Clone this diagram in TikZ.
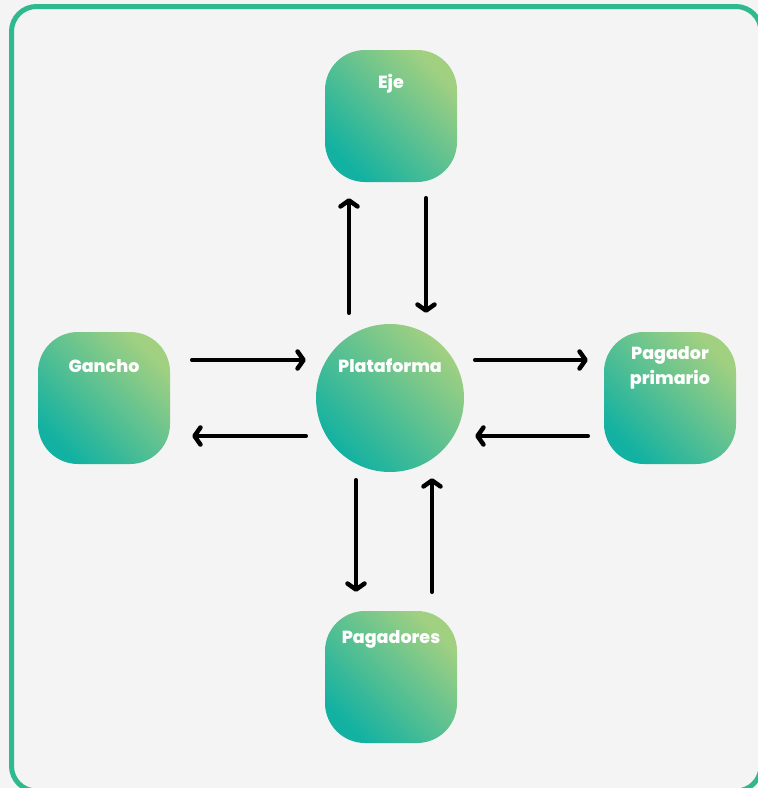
\documentclass[tikz,border=0pt]{standalone}
\usepackage{fontspec}
\setmainfont{Poppins}[BoldFont={Poppins ExtraBold}]
\usetikzlibrary{arrows.meta}
\definecolor{bgGray}{HTML}{F4F4F4}
\definecolor{frameGreen}{HTML}{2EB98F}
\definecolor{lightGreen}{HTML}{A2D081}
\definecolor{deepTeal}{HTML}{12B1A2}
\tikzset{
  entity/.style={
    shape = rectangle,
    rounded corners = 40pt,
    minimum size = 132pt,
    inner sep = 0pt,
    top color = deepTeal,
    bottom color = lightGreen,
    shading angle = 135
  },
  hub/.style={
    shape = circle,
    minimum size = 148pt,
    inner sep = 0pt,
    top color = deepTeal,
    bottom color = lightGreen,
    shading angle = 135
  },
  tag/.style={
    anchor = center,
    text = white,
    font = \bfseries\fontsize{17.5}{25}\selectfont,
    align = center
  },
  flow/.style={
    line width = 4.5pt,
    line cap = round,
    -{Straight Barb[length=6pt,width=17pt,round]}
  }
}
\begin{document}
\begin{tikzpicture}[x=1pt,y=-1pt]
    \useasboundingbox (0,0) rectangle (758,788);
    \fill[bgGray] (0,0) rectangle (758,788);
    \draw[frameGreen, line width=5pt, rounded corners=25pt] (11.5,6.5) rectangle (761,791);
    % parties
    \node[entity, label={[tag, yshift=-34pt]north:Eje}] (eje) at (391,116) {};
    \node[entity, label={[tag, yshift=-34pt]north:Gancho}] (gancho) at (104,398) {};
    \node[hub, label={[tag, yshift=-42pt]north:Plataforma}] (plat) at (390,398) {};
    \node[entity, label={[tag, yshift=-36pt]north:Pagador\\primario}] (pagprim) at (670,398) {};
    \node[entity, label={[tag, yshift=-29pt]north:Pagadores}] (pagadores) at (391,677) {};
    % flows
    \draw[flow] ([xshift=22pt,yshift=38pt]gancho.east) -- ([xshift=-10pt,yshift=38pt]plat.west);
    \draw[flow] ([xshift=-10pt,yshift=-38pt]plat.west) -- ([xshift=22pt,yshift=-38pt]gancho.east);
    \draw[flow] ([xshift=11pt,yshift=38pt]plat.east) -- ([xshift=-16pt,yshift=38pt]pagprim.west);
    \draw[flow] ([xshift=-16pt,yshift=-38pt]pagprim.west) -- ([xshift=11pt,yshift=-38pt]plat.east);
    \draw[flow] ([xshift=-41pt,yshift=11pt]plat.north) -- ([xshift=-42pt,yshift=-16pt]eje.south);
    \draw[flow] ([xshift=35pt,yshift=-16pt]eje.south) -- ([xshift=36pt,yshift=11pt]plat.north);
    \draw[flow] ([xshift=-34pt,yshift=-8pt]plat.south) -- ([xshift=-35pt,yshift=19pt]pagadores.north);
    \draw[flow] ([xshift=41pt,yshift=19pt]pagadores.north) -- ([xshift=42pt,yshift=-6pt]plat.south);
\end{tikzpicture}
\end{document}
